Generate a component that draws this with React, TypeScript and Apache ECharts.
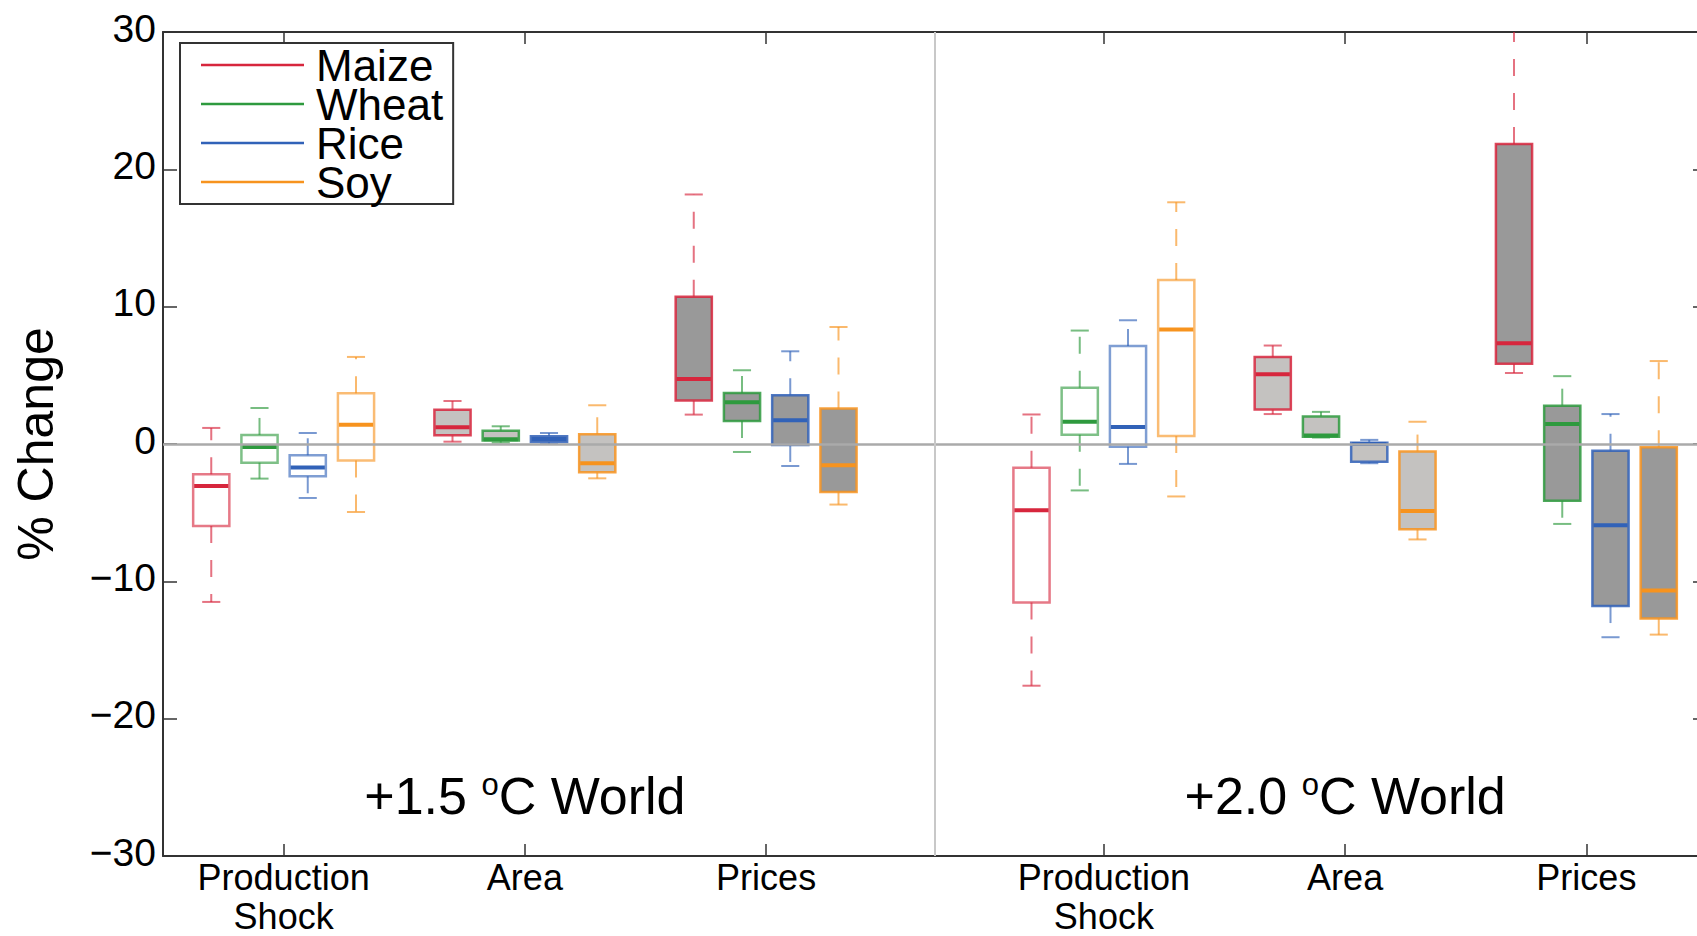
import React, { useEffect, useRef } from "react";
import * as echarts from "echarts";

// ---------- data ----------
const groupLabels = ["Production\nShock", "Area", "Prices", "Production\nShock", "Area", "Prices"];
const groupX = [1, 2, 3, 4.4, 5.4, 6.4];
const crops = ["Maize", "Wheat", "Rice", "Soy"];
const cropOffsets = [-0.3, -0.1, 0.1, 0.3];
const yTicks = [-30, -20, -10, 0, 10, 20, 30];
const worldLabels = ["+1.5", "+2.0"];

// each entry: [low whisker, Q1, median, Q3, high whisker], one per group
const maize = [
  [-11.5, -5.97, -3.06, -2.2, 1.17],
  [0.17, 0.63, 1.22, 2.5, 3.13],
  [2.14, 3.16, 4.74, 10.73, 18.17],
  [-17.6, -11.55, -4.83, -1.73, 2.15],
  [2.18, 2.51, 5.08, 6.33, 7.17],
  [5.17, 5.85, 7.34, 21.84, 34.0],
];
const wheat = [
  [-2.52, -1.36, -0.22, 0.66, 2.62],
  [0.1, 0.25, 0.34, 0.97, 1.29],
  [-0.58, 1.68, 3.04, 3.72, 5.37],
  [-3.38, 0.67, 1.62, 4.1, 8.26],
  [0.47, 0.53, 0.61, 2.01, 2.34],
  [-5.82, -4.13, 1.46, 2.79, 4.94],
];
const rice = [
  [-3.93, -2.35, -1.72, -0.82, 0.8],
  [0.0, 0.15, 0.36, 0.56, 0.8],
  [-1.6, -0.07, 1.73, 3.55, 6.75],
  [-1.45, -0.2, 1.23, 7.14, 9.01],
  [-1.4, -1.3, 0.0, 0.1, 0.3],
  [-14.07, -11.8, -5.91, -0.49, 2.18],
];
const soy = [
  [-4.95, -1.21, 1.41, 3.69, 6.34],
  [-2.5, -2.06, -1.41, 0.71, 2.82],
  [-4.41, -3.49, -1.55, 2.58, 8.52],
  [-3.82, 0.59, 8.34, 11.94, 17.6],
  [-6.95, -6.21, -4.87, -0.55, 1.62],
  [-13.88, -12.7, -10.66, -0.23, 6.04],
];
const cropData = [maize, wheat, rice, soy];

// ---------- styles ----------
const FONT = "Liberation Sans, Arial, Helvetica, sans-serif";
const cropColors = ["#d7263d", "#2e9a3e", "#3162b8", "#f7931e"];
const groupFills = [null, "#c4c2c0", "#999999", null, "#c4c2c0", "#999999"];
const Y_MIN = -30;
const Y_MAX = 30;

function rgba(hex: string, a: number) {
  const n = parseInt(hex.slice(1), 16);
  return `rgba(${(n >> 16) & 255},${(n >> 8) & 255},${n & 255},${a})`;
}

function makeRenderItem(cropIdx: number) {
  return (params: any, api: any) => {
    const x = api.value(0);
    const g = api.value(6);
    const clampv = (v: number) => Math.max(Y_MIN, Math.min(Y_MAX, v));
    const c = (v: number) => api.coord([x, clampv(v)]);
    const low = api.value(1), q1 = api.value(2), med = api.value(3), q3 = api.value(4), high = api.value(5);
    const pLow = c(low), pQ1 = c(q1), pMed = c(med), pQ3 = c(q3), pHigh = c(high);
    const cx = pMed[0];
    const w = api.size([0.15, 0])[0];
    const capW = api.size([0.075, 0])[0];
    const color = cropColors[cropIdx];
    const fill = groupFills[g];
    const boxStroke = fill ? rgba(color, 0.85) : rgba(color, 0.62);
    const whisk = rgba(color, 0.65);
    const children: any[] = [
      {
        type: "line",
        shape: { x1: cx, y1: pQ3[1], x2: cx, y2: pHigh[1] },
        style: { stroke: whisk, lineWidth: 2, lineDash: [17, 17] },
      },
      {
        type: "line",
        shape: { x1: cx, y1: pQ1[1], x2: cx, y2: pLow[1] },
        style: { stroke: whisk, lineWidth: 2, lineDash: [17, 17] },
      },
    ];
    if (high <= Y_MAX) {
      children.push({
        type: "line",
        shape: { x1: cx - capW / 2, y1: pHigh[1], x2: cx + capW / 2, y2: pHigh[1] },
        style: { stroke: whisk, lineWidth: 2 },
      });
    }
    if (low >= Y_MIN) {
      children.push({
        type: "line",
        shape: { x1: cx - capW / 2, y1: pLow[1], x2: cx + capW / 2, y2: pLow[1] },
        style: { stroke: whisk, lineWidth: 2 },
      });
    }
    children.push({
      type: "rect",
      shape: { x: cx - w / 2, y: pQ3[1], width: w, height: pQ1[1] - pQ3[1] },
      style: { fill: fill || "rgba(0,0,0,0)", stroke: boxStroke, lineWidth: 2.5 },
    });
    children.push({
      type: "line",
      shape: { x1: cx - w / 2 + 1, y1: pMed[1], x2: cx + w / 2 - 1, y2: pMed[1] },
      style: { stroke: color, lineWidth: 4 },
    });
    return { type: "group", children };
  };
}

export default function App() {
  const ref = useRef<HTMLDivElement>(null);

  useEffect(() => {
    document.body.style.margin = "0";
    document.body.style.overflow = "hidden";
    if (!ref.current) return;
    const chart = echarts.init(ref.current, null, { renderer: "svg" });

    const labelFor = (v: number) => {
      const i = groupX.findIndex((gx) => Math.abs(gx - v) < 1e-6);
      return i >= 0 ? groupLabels[i] : "";
    };
    const sepX = (groupX[2] + groupX[3]) / 2;

    const series: any[] = crops.map((name, ci) => ({
      name,
      type: "custom",
      renderItem: makeRenderItem(ci),
      itemStyle: { color: cropColors[ci] },
      encode: { x: 0, y: [1, 2, 3, 4, 5] },
      data: cropData[ci].map((row, gi) => [groupX[gi] + cropOffsets[ci], ...row, gi]),
      z: 3,
    }));
    series.push({
      type: "line",
      name: "ref",
      data: [],
      silent: true,
      z: 5,
      markLine: {
        silent: true,
        symbol: "none",
        label: { show: false },
        animation: false,
        data: [
          { yAxis: 0, lineStyle: { color: "#aaaaaa", width: 2.5, type: "solid" } },
          { xAxis: sepX, lineStyle: { color: "#c8c8c8", width: 2, type: "solid" } },
        ],
      },
    });

    const axisLine = { show: true, onZero: false, lineStyle: { color: "#333", width: 2 } };

    chart.setOption({
      animation: false,
      backgroundColor: "#ffffff",
      grid: { left: 163, top: 32, right: -10, bottom: 80, containLabel: false, outerBoundsMode: "none" },
      legend: {
        data: crops,
        left: 180,
        top: 43,
        orient: "vertical",
        icon: "rect",
        itemWidth: 103,
        itemHeight: 2.5,
        itemGap: -5,
        padding: [0, 10, 0, 21],
        borderColor: "#333",
        borderWidth: 2,
        backgroundColor: "#ffffff",
        selectedMode: false,
        textStyle: { fontSize: 44, lineHeight: 38.5, color: "#000", fontFamily: FONT, padding: [0, 0, 0, 7] },
      },
      xAxis: [
        {
          type: "value",
          min: 0.5,
          max: 6.9,
          position: "bottom",
          axisLine,
          splitLine: { show: false },
          axisTick: { show: true, inside: true, length: 12, customValues: groupX, lineStyle: { color: "#333", width: 1.5 } },
          axisLabel: {
            show: true,
            customValues: groupX,
            formatter: (v: number) => labelFor(v),
            fontSize: 36,
            lineHeight: 39,
            margin: 2,
            color: "#000",
            fontFamily: FONT,
          },
        },
        {
          type: "value",
          min: 0.5,
          max: 6.9,
          position: "top",
          axisLine,
          splitLine: { show: false },
          axisTick: { show: true, inside: true, length: 12, customValues: groupX, lineStyle: { color: "#333", width: 1.5 } },
          axisLabel: { show: false },
        },
      ],
      yAxis: [
        {
          type: "value",
          min: yTicks[0],
          max: yTicks[yTicks.length - 1],
          interval: 10,
          position: "left",
          axisLine,
          splitLine: { show: false },
          axisTick: { show: true, inside: true, length: 14, lineStyle: { color: "#333", width: 1.5 } },
          axisLabel: {
            fontSize: 39,
            color: "#000",
            fontFamily: FONT,
            margin: 7,
            verticalAlign: "bottom",
            lineHeight: 8,
            formatter: (v: number) => (v < 0 ? "\u2212" + Math.abs(v) : String(v)),
          },
          name: "% Change",
          nameLocation: "middle",
          nameRotate: 90,
          nameGap: 102,
          nameTextStyle: { fontSize: 50, color: "#000", fontFamily: FONT },
        },
        {
          type: "value",
          min: yTicks[0],
          max: yTicks[yTicks.length - 1],
          interval: 10,
          position: "right",
          axisLine,
          splitLine: { show: false },
          axisTick: { show: true, inside: true, length: 14, lineStyle: { color: "#333", width: 1.5 } },
          axisLabel: { show: false },
        },
      ],
      series,
    });

    const textY = -25.6;
    const graphics = worldLabels.map((w, i) => {
      const p = chart.convertToPixel({ xAxisIndex: 0, yAxisIndex: 0 }, [groupX[1 + i * 3], textY]);
      return {
        type: "text",
        x: p[0],
        y: p[1],
        z: 10,
        style: {
          text: `{n|${w} }{s|o}{n|C World}`,
          align: "center",
          verticalAlign: "middle",
          fill: "#000",
          rich: {
            n: { fontSize: 52, fontFamily: FONT, lineHeight: 58, fill: "#000" },
            s: { fontSize: 31, fontFamily: FONT, lineHeight: 58, verticalAlign: "top", padding: [2, 0, 0, 0], fill: "#000" },
          },
        },
      };
    });
    chart.setOption({ graphic: graphics });

    return () => chart.dispose();
  }, []);

  return <div ref={ref} style={{ width: 1697, height: 936 }} />;
}
